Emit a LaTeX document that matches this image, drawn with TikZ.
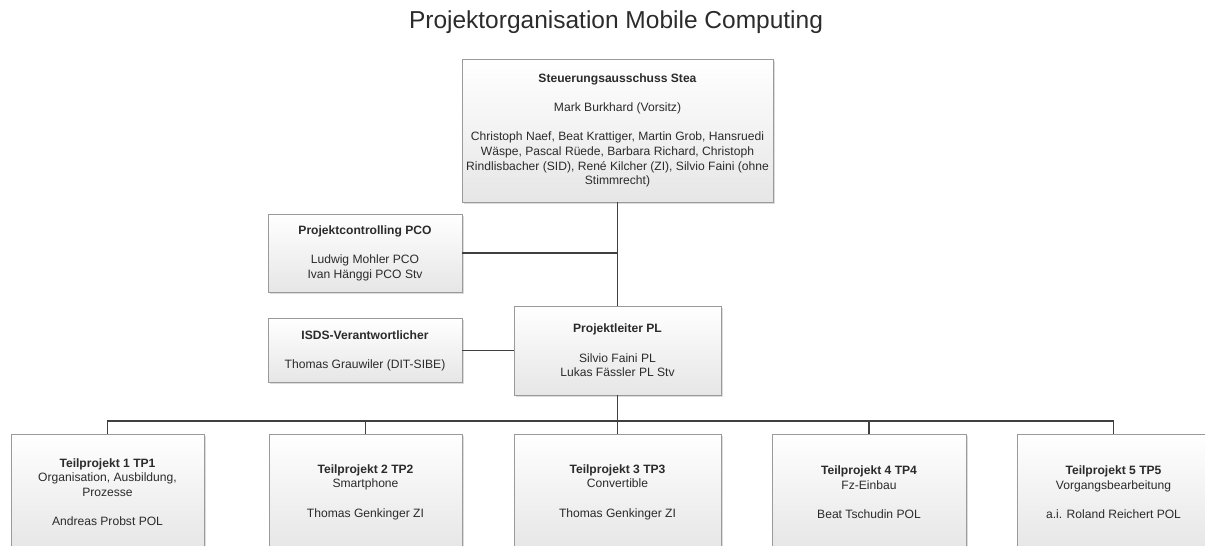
\documentclass[tikz,border=0pt]{standalone}
\usepackage{fontspec}
\setmainfont{Liberation Sans}
\usetikzlibrary{shadows}
\definecolor{boxline}{HTML}{9A9A9A}
\definecolor{boxbot}{HTML}{E6E6E6}
\definecolor{conn}{HTML}{404040}
\definecolor{txt}{HTML}{2B2B2B}
\tikzset{
  orgbox/.style={draw=boxline, line width=0.9pt, top color=white, bottom color=boxbot,
    drop shadow={shadow xshift=1.5pt, shadow yshift=-1.5pt, fill=black!30, opacity=0.45},
    align=center, text=txt, inner sep=0pt,
    font=\fontsize{12.1}{14.6}\selectfont},
  link/.style={draw=conn, line width=1.3pt},
}
\begin{document}
\begin{tikzpicture}[x=1pt,y=-1pt]
\useasboundingbox (0,0) rectangle (1205,546);

\node[text=txt, font=\fontsize{24.5}{28}\selectfont, anchor=base] (title) at (616,28.5) {Projektorganisation Mobile Computing};

\node[orgbox, minimum width=311pt, minimum height=143pt] (stea) at (617.5,130.5)
  {\textbf{Steuerungsausschuss Stea}\\[14.6pt]
   Mark Burkhard (Vorsitz)\\[14.6pt]
   Christoph Naef, Beat Krattiger, Martin Grob, Hansruedi\\
   Wäspe, Pascal Rüede, Barbara Richard, Christoph\\
   Rindlisbacher (SID), René Kilcher (ZI), Silvio Faini (ohne\\
   Stimmrecht)};

\node[orgbox, minimum width=194pt, minimum height=78pt] (pco) at (365,253)
  {\textbf{Projektcontrolling PCO}\\[14.6pt]
   Ludwig Mohler PCO\\
   Ivan Hänggi PCO Stv};

\node[orgbox, minimum width=194pt, minimum height=64pt] (isds) at (365,350.5)
  {\textbf{ISDS-Verantwortlicher}\\[14.6pt]
   Thomas Grauwiler (DIT-SIBE)};

\node[orgbox, minimum width=207pt, minimum height=89pt] (pl) at (617.5,350.5)
  {\textbf{Projektleiter PL}\\[14.6pt]
   Silvio Faini PL\\
   Lukas Fässler PL Stv};

% sub-projects (the row runs past the lower edge)
\node[orgbox, minimum width=193pt, minimum height=116pt] (tp1) at (107.5,492)
  {\textbf{Teilprojekt 1 TP1}\\
   Organisation, Ausbildung,\\
   Prozesse\\[14.6pt]
   Andreas Probst POL};
\node[orgbox, minimum width=193pt, minimum height=116pt] (tp2) at (365.5,492)
  {\textbf{Teilprojekt 2 TP2}\\
   Smartphone\\[14.6pt]
   Thomas Genkinger ZI};
\node[orgbox, minimum width=207pt, minimum height=116pt] (tp3) at (617.5,492)
  {\textbf{Teilprojekt 3 TP3}\\
   Convertible\\[14.6pt]
   Thomas Genkinger ZI};
\node[orgbox, minimum width=194pt, minimum height=116pt] (tp4) at (869,492)
  {\textbf{Teilprojekt 4 TP4}\\
   Fz-Einbau\\[14.6pt]
   Beat Tschudin POL};
\node[orgbox, minimum width=193pt, minimum height=116pt] (tp5) at (1113.5,492)
  {\textbf{Teilprojekt 5 TP5}\\
   Vorgangsbearbeitung\\[14.6pt]
   a.i. Roland Reichert POL};

% connectors
\coordinate (bus) at (617.5,421);
\draw[link] (stea.south) -- (pl.north);
\draw[link] (pco.east) -- (pco.east -| stea.south);
\draw[link] (isds.east) -- (pl.west);
\draw[link] (pl.south) -- (bus);
\foreach \t in {tp1,tp2,tp3,tp4,tp5}{
  \draw[link] (\t.north) |- (bus);
}
\end{tikzpicture}
\end{document}
